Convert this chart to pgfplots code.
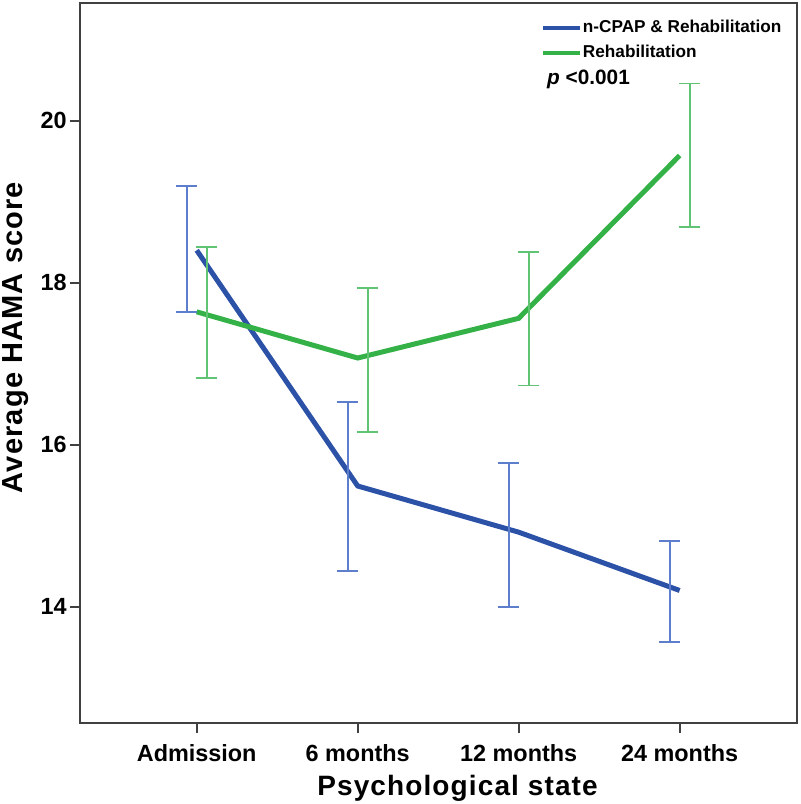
\documentclass[border=0pt]{standalone}
\usepackage{pgfplots}
\pgfplotsset{compat=1.18}
\usepackage{fontspec}
\setmainfont{Liberation Sans}
\newfontfamily\labfont{Liberation Sans}[LetterSpace=4]
\usetikzlibrary{calc}
\definecolor{bline}{RGB}{44,82,168}
\definecolor{berr}{RGB}{92,126,204}
\definecolor{gline}{RGB}{52,178,72}
\definecolor{gerr}{RGB}{96,196,116}
\definecolor{frame}{RGB}{64,64,64}
\begin{document}
\begin{tikzpicture}
\begin{axis}[
  scale only axis,
  width=358.5pt, height=360pt,
  xmin=-0.725, xmax=3.729,
  ymin=12.564, ymax=21.453,
  axis line style={draw=frame, line width=1.2pt},
  xtick={0,1,2,3},
  xticklabels={Admission,6 months,12 months,24 months},
  ytick={14,16,18,20},
  tick align=outside,
  xtick pos=lower, ytick pos=left,
  major tick length=5pt,
  tick style={draw=frame, line width=1pt},
  /pgf/number format/assume math mode=true,
  ticklabel style={font=\fontsize{11.7}{13}\selectfont\bfseries},
  yticklabel style={inner sep=1.5pt},
  xticklabel style={text height=8.5pt, inner sep=5.5pt},
  every axis x label/.style={at={(rel axis cs:0.5265,0)}, anchor=base, yshift=-36pt},
  every axis y label/.style={at={(rel axis cs:0,0.5354)}, anchor=base, rotate=90, yshift=28.5pt},
  xlabel={\labfont\bfseries\fontsize{14}{16}\selectfont Psychological state},
  ylabel={\labfont\bfseries\fontsize{14.5}{16}\selectfont Average HAMA score},
  legend style={draw=none, fill=none, at={(rel axis cs:0.6429,1)}, anchor=north west,
    yshift=-8.15pt, inner sep=0pt, outer sep=0pt, row sep=3.3pt,
    font=\fontsize{8.6}{9}\selectfont\bfseries,
    nodes={inner sep=0.5pt, text height=6.2pt, text depth=1.8pt},
    cells={anchor=west}},
  legend image code/.code={\draw[#1, line width=2pt] (0pt,0pt) -- (18.5pt,0pt);},
]
\coordinate (SW) at (rel axis cs:0,0);
\coordinate (NE) at (rel axis cs:1,1);
\addplot[bline, line width=2.5pt, mark=none] coordinates {
  (0,18.40) (1,15.49) (2,14.92) (3,14.20)
};
\addlegendentry{n-CPAP \& Rehabilitation}
\addplot[gline, line width=2.5pt, mark=none] coordinates {
  (0,17.64) (1,17.07) (2,17.56) (3,19.57)
};
\addlegendentry{Rehabilitation}
\addplot[forget plot, draw=none, mark=none,
  error bars/.cd, y dir=both, y explicit,
  error mark=|,
  error bar style={draw=berr, line width=0.9pt},
  error mark options={draw=berr, mark size=5.3pt, line width=0.9pt}] coordinates {
  (-0.062,18.415) +- (0,0.775)
  (0.938,15.485) +- (0,1.045)
  (1.938,14.885) +- (0,0.885)
  (2.938,14.185) +- (0,0.625)
};
\addplot[forget plot, draw=none, mark=none,
  error bars/.cd, y dir=both, y explicit,
  error mark=|,
  error bar style={draw=gerr, line width=0.9pt},
  error mark options={draw=gerr, mark size=5.3pt, line width=0.9pt}] coordinates {
  (0.062,17.63) +- (0,0.81)
  (1.062,17.045) +- (0,0.885)
  (2.062,17.555) +- (0,0.825)
  (3.062,19.575) +- (0,0.885)
};
\node[anchor=base west, inner sep=0pt, yshift=-41pt, font=\fontsize{10.4}{12}\selectfont\bfseries]
  at (rel axis cs:0.651,1) {\textit{p} <0.001};
\end{axis}
\pgfresetboundingbox
\path ($(SW)+(-40pt,-40.5pt)$) rectangle ($(NE)+(1.5pt,1.5pt)$);
\end{tikzpicture}
\end{document}
